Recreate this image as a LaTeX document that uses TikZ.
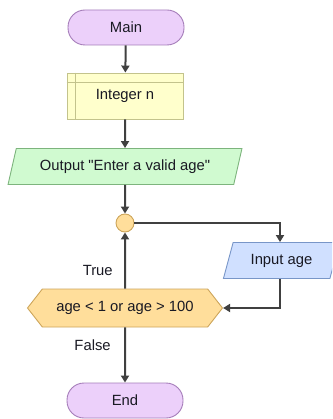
\documentclass[tikz,border=0pt]{standalone}
\usepackage{fontspec}
\setmainfont{Liberation Sans}
\usepackage{tikz}
\usetikzlibrary{arrows.meta,positioning,calc,shapes.geometric,shapes.symbols}
\definecolor{termfill}{RGB}{236,208,250}
\definecolor{termline}{RGB}{165,125,185}
\definecolor{declfill}{RGB}{255,255,204}
\definecolor{declline}{RGB}{195,195,140}
\definecolor{outfill}{RGB}{208,250,208}
\definecolor{outline}{RGB}{125,180,125}
\definecolor{infill}{RGB}{208,224,255}
\definecolor{inline}{RGB}{120,150,200}
\definecolor{condfill}{RGB}{255,222,155}
\definecolor{condline}{RGB}{205,165,90}
\definecolor{flowgray}{RGB}{64,64,64}
\definecolor{txt}{RGB}{25,25,35}
\tikzset{
  base/.style={draw, line width=0.9pt, text=txt, font=\fontsize{14.8}{16}\selectfont, inner sep=0pt},
  term/.style={base, draw=termline, fill=termfill, rectangle, rounded corners=17pt,
               minimum width=116pt, minimum height=35pt},
  decl/.style={base, draw=declline, fill=declfill, rectangle,
               minimum width=116pt, minimum height=46pt},
  iobox/.style={base, trapezium, trapezium left angle=65, trapezium right angle=115,
                trapezium stretches=true, minimum height=36pt},
  cond/.style={base, draw=condline, fill=condfill, signal, signal to=west and east,
               signal pointer angle=104, minimum width=195pt, minimum height=38pt},
  junc/.style={draw=condline, fill=condfill, circle, line width=0.9pt,
               minimum size=18pt, inner sep=0pt},
  flow/.style={-{Triangle[length=7pt,width=8pt]}, flowgray, line width=2pt},
  lbl/.style={text=txt, font=\fontsize{14.8}{16}\selectfont},
}
\begin{document}
\begin{tikzpicture}[x=1pt, y=-1pt]
  \useasboundingbox (0,0) rectangle (332,419);
  \clip (0,0) rectangle (332,419);
  % --- blocks
  \node[term] (main) at (126,27.5) {Main};
  \node[decl] (intn) at (125,96) {\raisebox{-5pt}{Integer n}};
  \draw[declline, line width=0.9pt] ($(intn.north west)+(9,0)$) -- ($(intn.south west)+(9,0)$);
  \draw[declline, line width=0.9pt] ($(intn.north west)+(0,10)$) -- ($(intn.north east)+(0,10)$);
  \node[iobox, draw=outline, fill=outfill, minimum width=234pt] (outp) at (125,166.5)
       {Output \textquotedbl Enter a valid age\textquotedbl};
  \node[junc] (loop) at (125,223) {};
  \node[iobox, draw=inline, fill=infill, minimum width=117pt] (inp) at (281.5,260.5)
       {Input age};
  \node[cond] (test) at (125,308) {age < 1 or age > 100};
  \node[term] (stop) at (125,400.5) {End};
  % --- connectors
  \draw[flow] (main) -- (intn);
  \draw[flow] (intn) -- (outp);
  \draw[flow] (outp) -- (loop);
  \draw[flow] (test) -- (loop) node[lbl, pos=0.32, left=8pt] {True};
  \draw[flow] (loop.east) -| ($(inp.north)+(-1.5,0)$);
  \draw[flow] ($(inp.south)+(-1.5,0)$) |- (test.east);
  \draw[flow] (test) -- (stop) node[lbl, pos=0.32, left=10pt] {False};
\end{tikzpicture}
\end{document}
